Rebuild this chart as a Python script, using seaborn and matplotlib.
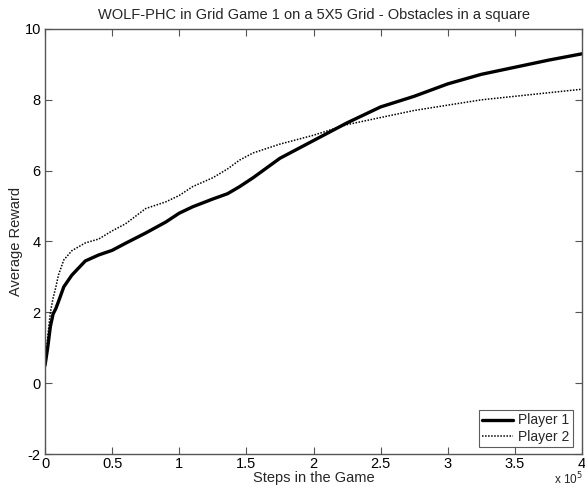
import numpy as np
import pandas as pd
import matplotlib
matplotlib.use("Agg")
import matplotlib.pyplot as plt
import seaborn as sns
from matplotlib.ticker import FuncFormatter, MultipleLocator

# Steps (in units of 1e5) and average reward for each player
steps_e5 = [0, 0.02, 0.04, 0.06, 0.08, 0.1, 0.14, 0.2, 0.3, 0.4, 0.5, 0.6, 0.75,
            0.9, 1.0, 1.1, 1.25, 1.36, 1.45, 1.55, 1.75, 2.0, 2.25, 2.5, 2.75,
            3.0, 3.25, 3.5, 3.75, 4.0]
player1 = [0.5, 1.0, 1.6, 1.95, 2.1, 2.3, 2.72, 3.05, 3.45, 3.62, 3.75, 3.95, 4.24,
           4.55, 4.8, 4.98, 5.2, 5.35, 5.55, 5.8, 6.35, 6.85, 7.35, 7.8, 8.1,
           8.45, 8.72, 8.92, 9.12, 9.3]
player2 = [0.5, 1.3, 2.0, 2.4, 2.7, 3.05, 3.48, 3.74, 3.96, 4.07, 4.3, 4.5, 4.93,
           5.12, 5.3, 5.55, 5.8, 6.05, 6.3, 6.5, 6.75, 7.0, 7.3, 7.5, 7.7,
           7.85, 8.0, 8.1, 8.2, 8.3]

steps = np.array(steps_e5) * 1e5
df1 = pd.DataFrame({"steps": steps, "reward": player1})
df2 = pd.DataFrame({"steps": steps, "reward": player2})

sns.set_theme(style="white")
plt.rcParams["font.family"] = ["Liberation Sans", "DejaVu Sans"]
plt.rcParams["font.size"] = 10

fig = plt.figure(figsize=(5.85, 4.88), dpi=100)
ax = fig.add_axes([45 / 585, 1 - 454 / 488, (582 - 45) / 585, (454 - 29) / 488])

sns.lineplot(data=df1, x="steps", y="reward", ax=ax, color="black",
             linewidth=2.4, label="Player 1")
sns.lineplot(data=df2, x="steps", y="reward", ax=ax, color="black",
             linewidth=1.1, linestyle=(0, (1, 1)), label="Player 2")

ax.set_xlim(0, 4e5)
ax.set_ylim(-2, 10)
ax.xaxis.set_major_locator(MultipleLocator(0.5e5))
ax.yaxis.set_major_locator(MultipleLocator(2))
ax.xaxis.set_major_formatter(FuncFormatter(lambda v, p: f"{v / 1e5:g}"))
ax.yaxis.set_major_formatter(FuncFormatter(lambda v, p: f"{v:g}"))

for s in ax.spines.values():
    s.set_color("#555555")
    s.set_linewidth(1.0)
ax.tick_params(direction="in", length=5, width=0.8, color="#555555",
               top=True, right=True, bottom=True, left=True,
               labelsize=10.5, labelcolor="black")
ax.tick_params(axis="x", pad=2)
ax.tick_params(axis="y", pad=3)

ax.set_title("WOLF-PHC in Grid Game 1 on a 5X5 Grid - Obstacles in a square",
             fontsize=10.5, pad=7)
ax.set_xlabel("Steps in the Game", fontsize=10.5, labelpad=0)
ax.set_ylabel("Average Reward", fontsize=10.5, labelpad=1)
fig.text(583 / 585, 4 / 488, r"x 10$^5$", ha="right", va="baseline",
         fontsize=8.5)

leg = ax.legend(loc="lower right", bbox_to_anchor=(573 / 585, 1 - 447 / 488),
                bbox_transform=fig.transFigure, frameon=True, fancybox=False,
                edgecolor="#333333", fontsize=10, handlelength=2.2,
                borderaxespad=0, borderpad=0.25, labelspacing=0.15,
                handletextpad=0.4)
leg.get_frame().set_linewidth(0.8)

fig.savefig("out.png", dpi=100, facecolor="white")
